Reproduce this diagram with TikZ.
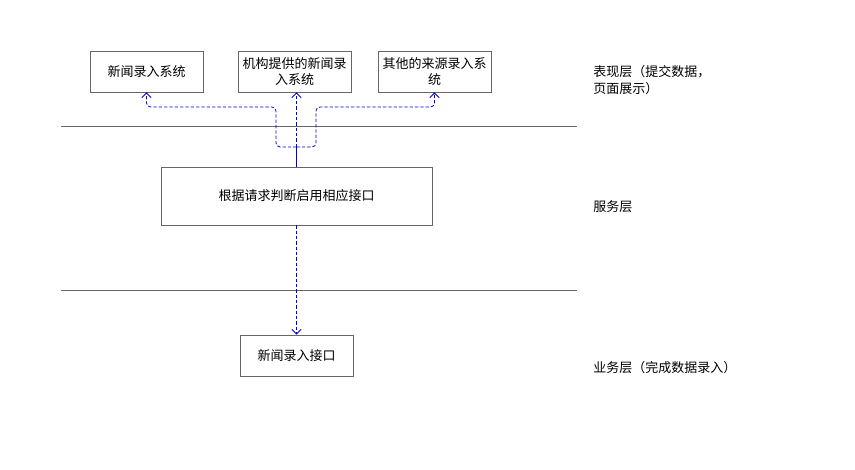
\documentclass[tikz,border=0pt]{standalone}
\usepackage{fontspec}
\setmainfont{Noto Sans CJK SC}
\usetikzlibrary{arrows.meta}
\begin{document}
\begin{tikzpicture}[x=0.75pt,y=-0.75pt,font=\fontsize{9.75}{12.5}\selectfont,
  box/.style={draw=black!60,line width=0.6pt,minimum width=84.75pt,minimum height=30.75pt,inner sep=1pt,align=center},
  bigbox/.style={box,minimum width=203.25pt,minimum height=43.5pt},
  layer/.style={anchor=west,align=left,inner sep=0pt},
  link/.style={draw=blue!85!black,line width=0.6pt},
  flow/.style={link,dashed,dash pattern=on 2.5pt off 1.5pt,-{Straight Barb[length=3.5pt,width=7pt]},rounded corners=3pt}]
\useasboundingbox (0,0) rectangle (855,470);
\node[box] (b1) at (146.5,71.5) {新闻录入系统};
\node[box] (b2) at (294.5,71.5) {机构提供的新闻录\\入系统};
\node[box] (b3) at (434.5,71.5) {其他的来源录入系\\统};
\node[bigbox] (b4) at (296.5,196) {根据请求判断启用相应接口};
\node[box] (b5) at (296.5,355.5) {新闻录入接口};
\node[layer] (l1) at (593,80) {表现层（提交数据，\\页面展示）};
\node[layer] (l2) at (593,207) {服务层};
\node[layer] (l3) at (593,368) {业务层（完成数据录入）};
\coordinate (s1) at (61,126); \coordinate (e1) at (577,126);
\coordinate (s2) at (61,290); \coordinate (e2) at (577,290);
\draw[black!60,line width=0.6pt] (s1)--(e1) (s2)--(e2);
\coordinate (j) at (b4.north |- 0,147);
\draw[link] (b4.north)--(j);
\draw[flow] (j) -| (276,107) -| (b1.south);
\draw[flow] (j) -| (316,107) -| (b3.south);
\draw[flow] (j) -- (j |- b2.south);
\draw[flow] (b4.south) -- (b5.north);
\end{tikzpicture}
\end{document}
